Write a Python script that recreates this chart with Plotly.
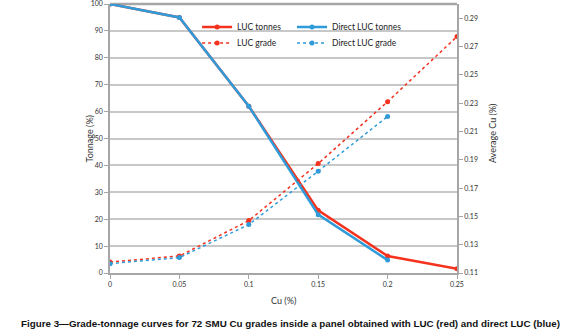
import plotly.graph_objects as go

cu = [0, 0.05, 0.1, 0.15, 0.2, 0.25]
luc_tonnes = [100, 95, 62, 23.3, 6.3, 1.6]
direct_tonnes = [100, 95, 62, 21.7, 4.8]
luc_grade = [0.1178, 0.122, 0.147, 0.1873, 0.231, 0.277]
direct_grade = [0.1166, 0.1209, 0.1442, 0.1819, 0.2206]
x_ticks = ["0", "0.05", "0.1", "0.15", "0.2", "0.25"]
grade_ticks = [0.11, 0.13, 0.15, 0.17, 0.19, 0.21, 0.23, 0.25, 0.27, 0.29]

RED = "#f4321e"
BLUE = "#2f9bd9"
FONT = "Lato, 'Liberation Sans', sans-serif"
AX = "#a6a6a6"
TXT = "#333333"

fig = go.Figure()
fig.add_trace(go.Scatter(x=cu, y=luc_tonnes, name="LUC tonnes", mode="lines+markers",
                         line=dict(color=RED, width=2.5), marker=dict(size=5, color=RED),
                         legend="legend"))
fig.add_trace(go.Scatter(x=cu[:len(direct_tonnes)], y=direct_tonnes, name="Direct LUC tonnes",
                         mode="lines+markers", line=dict(color=BLUE, width=2.5),
                         marker=dict(size=5, color=BLUE), legend="legend2"))
fig.add_trace(go.Scatter(x=cu, y=luc_grade, name="LUC grade", mode="lines+markers", yaxis="y2",
                         line=dict(color=RED, width=1.5, dash="dot"), marker=dict(size=5, color=RED),
                         legend="legend3"))
fig.add_trace(go.Scatter(x=cu[:len(direct_grade)], y=direct_grade, name="Direct LUC grade",
                         mode="lines+markers", yaxis="y2",
                         line=dict(color=BLUE, width=1.5, dash="dot"), marker=dict(size=5, color=BLUE),
                         legend="legend4"))

leg_common = dict(orientation="h", xanchor="left", yanchor="top", bgcolor="rgba(0,0,0,0)",
                  font=dict(size=8.5, color="#222222", family=FONT))
col1, col2 = 0.251, 0.5245
row1, row2 = 1 - (12.5 - 4) / 269, 1 - (28.5 - 4) / 269

fig.update_layout(
    width=580, height=335,
    margin=dict(l=110, r=123, t=4, b=62, autoexpand=False),
    paper_bgcolor="white", plot_bgcolor="white",
    font=dict(family=FONT, color=TXT),
    showlegend=True,
    legend=dict(x=col1, y=row1, **leg_common),
    legend2=dict(x=col2, y=row1, **leg_common),
    legend3=dict(x=col1, y=row2, **leg_common),
    legend4=dict(x=col2, y=row2, **leg_common),
    xaxis=dict(range=[0, 0.25], tickvals=cu, ticktext=x_ticks, automargin=False,
               showgrid=False, zeroline=False, showline=True, linecolor=AX, linewidth=1.5,
               ticks="outside", ticklen=4, tickcolor=AX,
               tickfont=dict(size=7, color=TXT)),
    yaxis=dict(range=[0, 100], dtick=10, showgrid=True, gridcolor="#c8c8c8", gridwidth=1.5,
               automargin=False,
               zeroline=False, showline=True, linecolor=AX, linewidth=1.5,
               ticks="outside", ticklen=4, tickcolor=AX, ticklabeloverflow="allow",
               tickfont=dict(size=7, color=TXT)),
    yaxis2=dict(range=[0.11, 0.30], tickvals=grade_ticks, automargin=False,
                ticktext=[f"{v:.2f}" for v in grade_ticks],
                overlaying="y", side="right", showgrid=False, zeroline=False,
                showline=True, linecolor=AX, linewidth=1.5,
                ticks="outside", ticklen=4, tickcolor=AX,
                tickfont=dict(size=7, color=TXT)),
    shapes=[dict(type="line", xref="paper", yref="paper", x0=0, x1=1, y0=1, y1=1,
                 line=dict(color=AX, width=2.5), layer="below")],
    annotations=[
        dict(text="Cu (%)", xref="paper", yref="paper", x=0.5, y=-(300 - 273) / 269,
             xanchor="center", yanchor="middle", showarrow=False, font=dict(size=9, color=TXT)),
        dict(text="Tonnage (%)", xref="paper", yref="paper", x=(89 - 110) / 347, y=0.5,
             xanchor="center", yanchor="middle", textangle=-90, showarrow=False,
             font=dict(size=9, color=TXT)),
        dict(text="Average Cu (%)", xref="paper", yref="paper", x=(492 - 110) / 347, y=0.52,
             xanchor="center", yanchor="middle", textangle=-90, showarrow=False,
             font=dict(size=9, color=TXT)),
        dict(text="<b>Figure 3\u2014Grade-tonnage curves for 72 SMU Cu grades inside a panel obtained with LUC (red) and direct LUC (blue)</b>",
             xref="paper", yref="paper", x=0.519, y=-0.186, xanchor="center", yanchor="middle",
             showarrow=False,
             font=dict(family="'Liberation Sans', Arial, sans-serif", size=9.8, color="#111111")),
    ],
)

fig.write_html("out.html", config={"displayModeBar": False},
               post_script="document.body.style.margin='0';")
